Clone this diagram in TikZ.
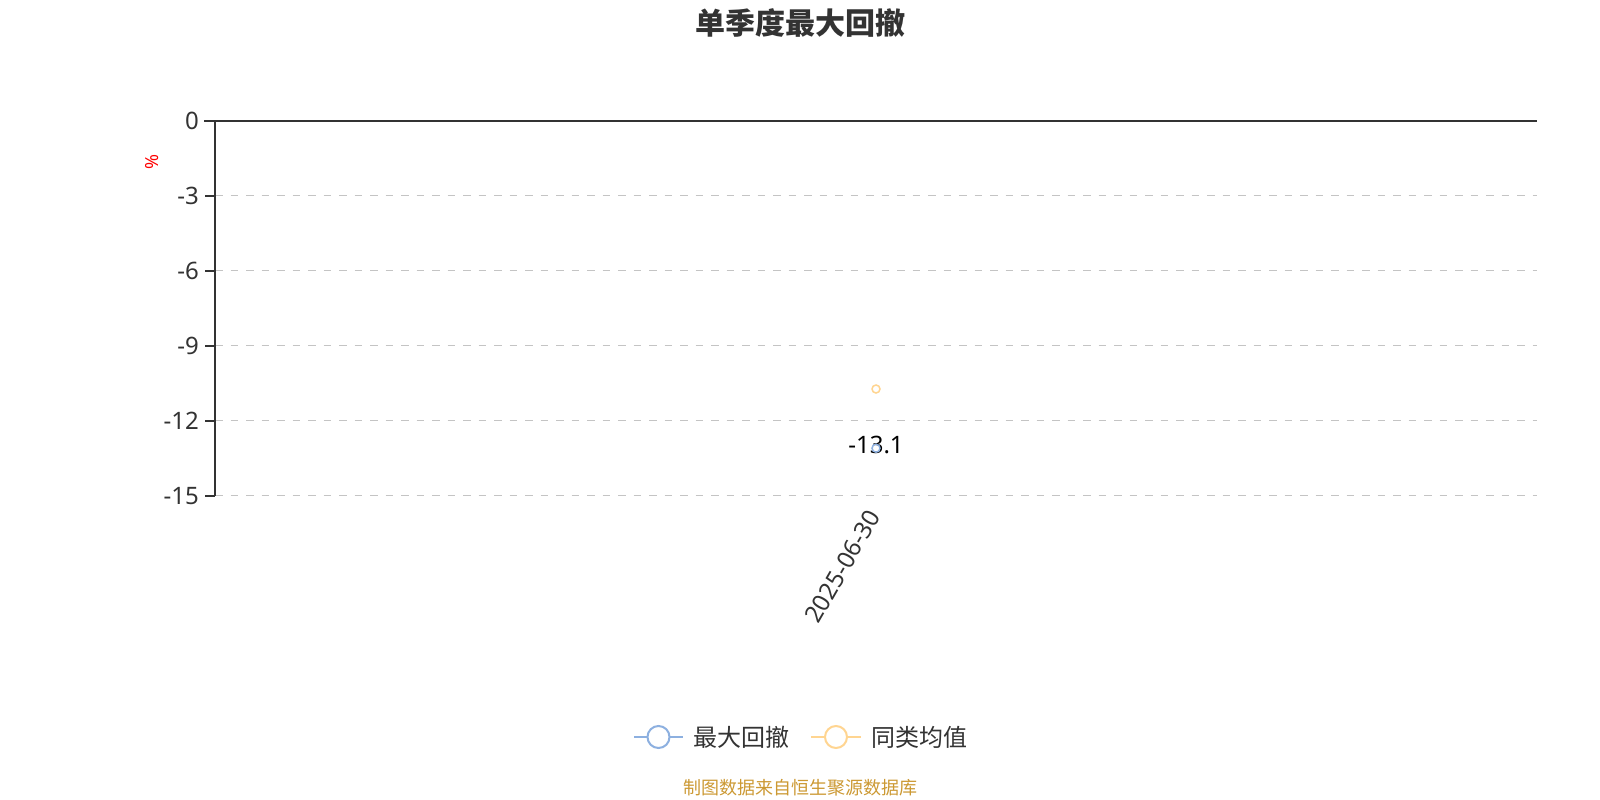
\documentclass[tikz,border=0pt]{standalone}
\usepackage{fontspec}
\setmainfont{Noto Sans}
\newfontfamily\cjk{Noto Sans CJK SC}
\definecolor{axisc}{HTML}{333333}
\definecolor{gridc}{HTML}{C4C4C4}
\definecolor{blueS}{HTML}{8DB0E0}
\definecolor{orangeS}{HTML}{FFD591}
\definecolor{footc}{HTML}{CC9933}
\definecolor{txtc}{HTML}{333333}
\tikzset{
  axisline/.style={draw=axisc,line width=2pt},
  gridline/.style={draw=gridc,line width=1.5pt,dash pattern=on 7.5pt off 8pt},
  ticklab/.style={font=\fontsize{24}{24}\selectfont,text=txtc,anchor=base east,inner sep=0pt},
  legtext/.style={font=\cjk\fontsize{24}{24}\selectfont,text=txtc,anchor=west,inner sep=0pt},
  marker/.style={circle,inner sep=0pt,minimum size=8pt,line width=1.5pt},
  legmark/.style={circle,inner sep=0pt,minimum size=22pt,line width=2pt,fill=white},
}
\begin{document}
\begin{tikzpicture}[x=1pt,y=-1pt]
\useasboundingbox[fill=white] (0,0) rectangle (1600,800);
% title
\node[font=\cjk\bfseries\fontsize{30}{30}\selectfont,text=txtc] (title) at (800,23) {单季度最大回撤};
% unit label
\node[font=\fontsize{18}{18}\selectfont,text=red,rotate=90] (unit) at (152,162) {\%};
% coordinates of axes
\coordinate (ytop) at (215,120.7);
\coordinate (ybot) at (215,495.7);
\coordinate (xl) at (204,120.7);
\coordinate (xr) at (1537,120.7);
% grid lines
\foreach \v/\y in {3/195.7,6/270.7,9/345.7,12/420.7,15/495.7}{
  \coordinate (gl\v) at (215,\y);
  \coordinate (gr\v) at (1537,\y);
  \draw[gridline] (gl\v) -- (gr\v);
  \coordinate (gt\v) at (205,\y);
  \draw[axisline] (gt\v) -- (gl\v);
  \node[ticklab] (lab\v) at (199,\y+8.5) {-\v};
}
\node[ticklab] (lab0) at (199,120.7+8.5) {0};
% axes
\draw[axisline] (ytop) -- (ybot);
\draw[axisline] (xl) -- (xr);
% data points
\node[marker,draw=orangeS,fill=white] (avg) at (876,389) {};
\node[font=\fontsize{24}{24}\selectfont,text=black,anchor=base,inner sep=0pt] (mddlab) at (876,453) {-13.1};
\node[marker,draw=blueS] (mdd) at (876,448.2) {};
% category label
\node[font=\fontsize{24}{24}\selectfont,text=txtc,rotate=60,anchor=east,inner sep=0pt] (cat) at (874,512) {2025-06-30};
% legend
\coordinate (l1a) at (634,737);
\coordinate (l1b) at (683,737);
\draw[blueS,line width=2pt] (l1a) -- (l1b);
\node[legmark,draw=blueS] (lm1) at (658.5,737) {};
\node[legtext] (lt1) at (693,737) {最大回撤};
\coordinate (l2a) at (811,737);
\coordinate (l2b) at (861,737);
\draw[orangeS,line width=2pt] (l2a) -- (l2b);
\node[legmark,draw=orangeS] (lm2) at (836,737) {};
\node[legtext] (lt2) at (871,737) {同类均值};
% footer
\node[font=\cjk\fontsize{18}{18}\selectfont,text=footc] (foot) at (800,788) {制图数据来自恒生聚源数据库};
\end{tikzpicture}
\end{document}
